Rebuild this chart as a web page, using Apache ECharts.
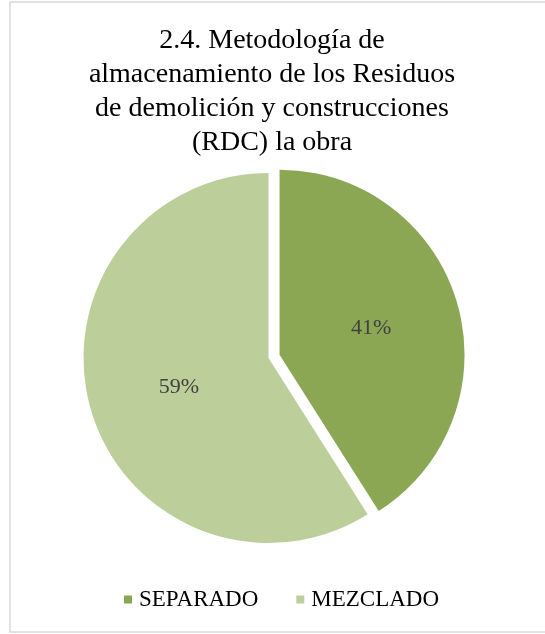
<!DOCTYPE html>
<html>
<head>
<meta charset="utf-8">
<script src="https://cdn.jsdelivr.net/npm/echarts@6/dist/echarts.min.js"></script>
<style>
html,body{margin:0;padding:0;background:#fff;}
#chart{width:545px;height:634px;}
</style>
</head>
<body>
<div id="chart"></div>
<script>
var titleText = '2.4. Metodología de\nalmacenamiento de los Residuos\nde demolición y construcciones\n(RDC) la obra';
var categories = ['SEPARADO', 'MEZCLADO'];
var values = [41, 59];
var colors = ['#8BA753', '#BCCF9B'];
var exploded = [true, false];
var labelNudge = [[-4, 5], [2, 3]];

var chart = echarts.init(document.getElementById('chart'), null, {renderer: 'canvas'});
var font = 'Liberation Serif, Times New Roman, serif';
var data = categories.map(function (c, i) {
  return {name: c, value: values[i], selected: exploded[i], itemStyle: {color: colors[i]},
    label: {offset: labelNudge[i]}};
});
chart.setOption({
  animation: false,
  backgroundColor: '#fff',
  graphic: [{
    type: 'rect',
    shape: {x: 10, y: 2, width: 545, height: 630},
    style: {fill: 'none', stroke: '#d9d9d9', lineWidth: 1.5},
    silent: true
  }, {
    type: 'text',
    x: 272,
    y: 24,
    silent: true,
    style: {
      text: titleText,
      align: 'center',
      verticalAlign: 'top',
      font: '28px ' + font,
      lineHeight: 34,
      fill: '#000'
    }
  }],
  legend: {
    left: 124,
    top: 588,
    padding: 0,
    icon: 'rect',
    itemWidth: 8,
    itemHeight: 8,
    itemGap: 38,
    selectedMode: false,
    textStyle: {fontFamily: font, fontSize: 23, color: '#000', padding: [0, 0, 0, 2]},
    data: categories
  },
  series: [{
    type: 'pie',
    center: [268.5, 358],
    radius: 185,
    startAngle: 90,
    clockwise: true,
    selectedMode: 'multiple',
    selectedOffset: 11.5,
    avoidLabelOverlap: false,
    label: {
      show: true,
      position: 'inside',
      formatter: function (p) { return Math.round(p.percent) + '%'; },
      fontFamily: font,
      fontSize: 22,
      color: '#404040'
    },
    labelLine: {show: false},
    itemStyle: {borderWidth: 0},
    emphasis: {disabled: true},
    data: data
  }]
});
</script>
</body>
</html>
